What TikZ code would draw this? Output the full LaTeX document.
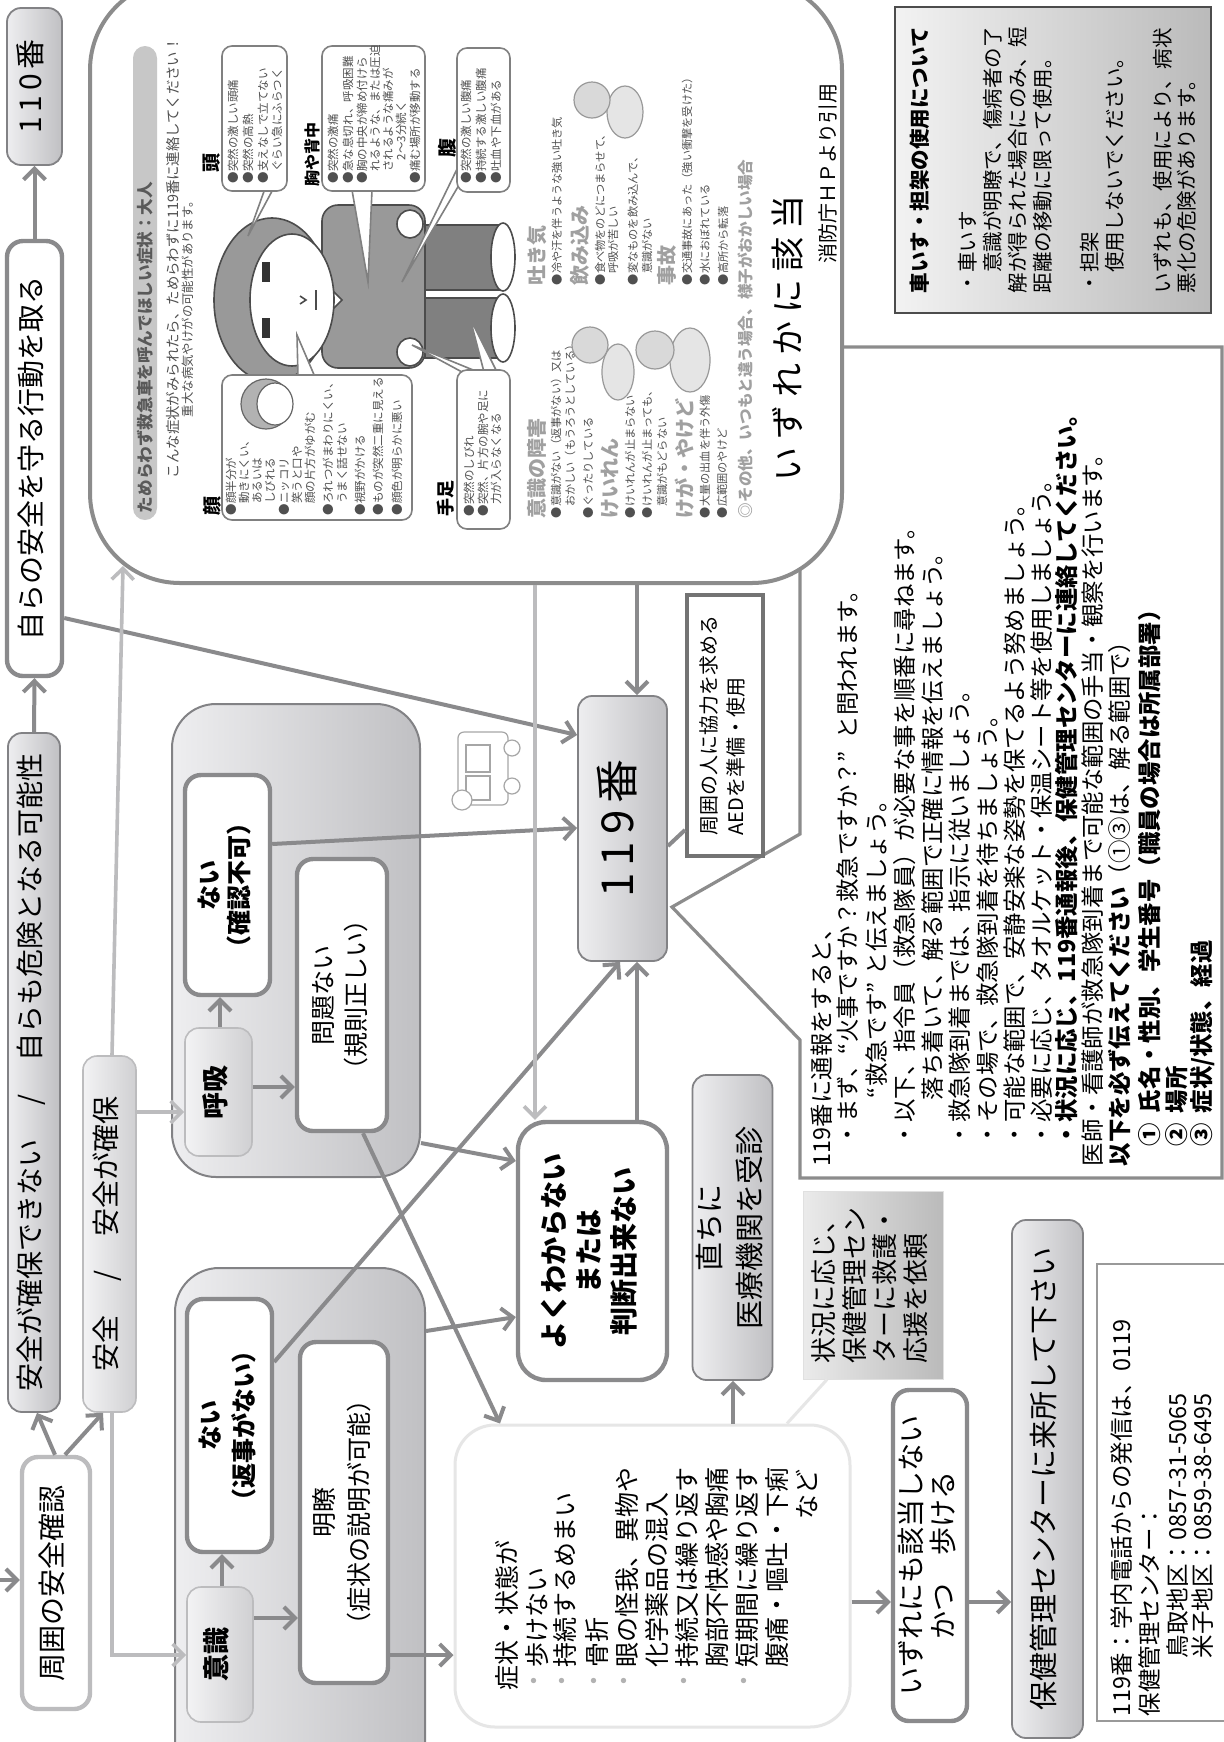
\documentclass[tikz,border=0pt]{standalone}
\usepackage{fontspec}
\usepackage{graphicx}
\setmainfont{Noto Sans CJK JP}
\usetikzlibrary{arrows.meta}
\definecolor{lineD}{RGB}{138,138,140}
\definecolor{lineL}{RGB}{188,188,190}
\definecolor{lineVL}{RGB}{230,230,230}
\definecolor{gL}{RGB}{238,238,240}
\definecolor{gR}{RGB}{192,192,195}
\definecolor{bordG}{RGB}{130,130,133}
\definecolor{ill}{RGB}{80,80,80}
\definecolor{illH}{RGB}{160,160,160}
\newcommand\mybox[7]{%
  \pgfmathsetmacro\bxw{(#5-#3)*0.5}%
  \pgfmathsetmacro\bxh{(#6-#4)*0.5}%
  \node[#2,minimum width=\bxw pt,minimum height=\bxh pt] (#1) at ({(#3+#5)/2},{(#4+#6)/2}) {#7};}
\newcommand\rtxt[3]{\rotatebox{90}{\fontsize{#1}{#2}\selectfont\begin{tabular}{@{}c@{}}#3\end{tabular}}}
\newcommand\rtxtl[3]{\rotatebox{90}{\fontsize{#1}{#2}\selectfont\begin{tabular}{@{}l@{}}#3\end{tabular}}}
\newcommand\tline[5]{\node[tl] (#1) at (#2,#3) {\fontsize{#4}{#4}\selectfont #5};}
\begin{document}
\begin{tikzpicture}[x=0.5pt,y=-0.5pt,
  tl/.style={rotate=90,anchor=west,inner sep=0pt,outer sep=0pt},
  tle/.style={rotate=90,anchor=east,inner sep=0pt,outer sep=0pt},
  conn/.style={draw=lineD,line width=2pt,-{Straight Barb[length=5.5pt,width=11pt]}},
  connN/.style={draw=lineD,line width=2pt},
  connL/.style={draw=lineL,line width=1.8pt,-{Straight Barb[length=5.5pt,width=11pt]}},
  gbox/.style={draw=bordG,line width=0.9pt,left color=gL,right color=gR,rounded corners=7pt,inner sep=0pt},
  wbox/.style={draw=lineD,line width=2.2pt,fill=white,rounded corners=8pt,inner sep=0pt},
  wboxL/.style={draw=lineL,line width=2.2pt,fill=white,rounded corners=8pt,inner sep=0pt},
  lbox/.style={draw=lineL,line width=0.8pt,left color=gL!70!white,right color=gR!75!white,rounded corners=7pt,inner sep=0pt},
  cont/.style={draw=bordG,line width=1pt,left color=gL,right color=gR,rounded corners=22pt,inner sep=0pt},
  abox/.style={draw=black!55,line width=2pt,fill=white,inner sep=0pt},
  sbox/.style={draw=lineVL,line width=1.5pt,fill=white,rounded corners=20pt,inner sep=0pt},
  jbox/.style={draw=black!12,line width=0.5pt,left color=black!8,right color=black!27,inner sep=0pt},
  ibox/.style={draw=black!40,line width=0.6pt,fill=white,inner sep=0pt},
  kbox/.style={draw=black!70,line width=1.2pt,left color=black!5,right color=black!27,inner sep=0pt},
  fbox/.style={draw=black!45,line width=2pt,fill=white,rounded corners=45pt,inner sep=0pt},
  bub/.style={draw=black!50,line width=0.8pt,fill=white,rounded corners=5pt},
  figl/.style={draw=black!70,line width=0.8pt},
]
\fill[white] (0,0) rectangle (1224,1742);
\useasboundingbox (0,0) rectangle (1224,1742);

% ---- callout box behind the illustration frame
\draw[draw=black!45,line width=1.6pt,fill=white] (840,347) -- (1222,347) -- (1222,1178) -- (800,1178) -- (800,1040) -- (672,907) -- (800,834) -- (800,500) -- (840,500) -- cycle;

% ---- illustration frame
\mybox{frame}{fbox}{90}{-20}{842}{583}{}

% title bar
\fill[black!22,rounded corners=6pt] (133,46) rectangle (157,520);
\tline{ti}{145}{513}{8.3}{\bfseries\color{black!65}ためらわず救急車を呼んでほしい症状：大人}
\tline{st1}{173}{478}{7.2}{\color{ill}こんな症状がみられたら、ためらわずに119番に連絡してください！}
\tline{st2}{188}{417}{6.2}{\color{ill}重大な病気やけがの可能性があります。}

% main figure
\draw[figl,fill=black!40,rounded corners=8pt] (322,205) rectangle (425,368);
\draw[figl,fill=white] (322,280) -- (342,300) -- (322,320) -- cycle;
\draw[figl,fill=white] (410,224) ellipse [x radius=6.5pt, y radius=7pt];
\draw[figl,fill=white] (410,352) ellipse [x radius=6.5pt, y radius=7pt];
\draw[figl,fill=black!50] (425,225) rectangle (500,290);
\draw[figl,fill=black!50] (425,298) rectangle (500,358);
\draw[figl,fill=white] (503,257) ellipse [x radius=6pt, y radius=17pt];
\draw[figl,fill=white] (503,328) ellipse [x radius=6pt, y radius=17pt];
\draw[figl,fill=black!40] (272,300) ellipse [x radius=29pt, y radius=41pt];
\draw[figl,fill=white] (292,300) ellipse [x radius=21pt, y radius=33pt];
\fill[black!80] (262,262) rectangle (270,282);
\fill[black!80] (262,318) rectangle (270,338);
\draw[figl] (300,296) -- (306,300) -- (300,304);
\draw[figl] (316,290) -- (316,310);

% bubble tails
\draw[bub,rounded corners=0pt] (286,130) -- (248,236) -- (286,165);
\draw[bub,rounded corners=0pt] (298,377) -- (297,335) -- (315,377);
\draw[bub,rounded corners=0pt] (352,190) -- (368,282) -- (372,190);
\draw[bub,rounded corners=0pt] (459,165) -- (402,282) -- (459,185);
\draw[bub,rounded corners=0pt] (462,372) -- (412,345) -- (478,372);
\draw[bub,rounded corners=0pt] (484,372) -- (470,318) -- (497,372);
% bubbles
\draw[bub] (222,46) rectangle (287,191);
\draw[bub] (222,375) rectangle (412,520);
\draw[bub] (322,46) rectangle (425,191);
\draw[bub] (457,48) rectangle (510,192);
\draw[bub] (457,370) rectangle (510,529);
\draw[black!60,line width=0.6pt,fill=black!30] (266,404) circle [radius=12.5pt];
\draw[black!60,line width=0.6pt,fill=white] (275,404) ellipse [x radius=9pt, y radius=10.5pt];

% headings
\tline{h1}{212}{172}{9.5}{\bfseries 頭}
\tline{h2}{212}{515}{9.5}{\bfseries 顔}
\tline{h3}{312}{186}{8}{\bfseries 胸や背中}
\tline{h4}{447}{157}{9.5}{\bfseries 腹}
\tline{h5}{446}{516}{9}{\bfseries 手足}
% 頭
\tline{a1}{233}{183}{5.75}{\color{ill}●突然の激しい頭痛}
\tline{a2}{248}{183}{5.75}{\color{ill}●突然の高熱}
\tline{a3}{263}{183}{5.75}{\color{ill}●支えなしで立てない}
\tline{a4}{277}{183}{5.75}{\color{ill}　ぐらい急にふらつく}
% 顔
\tline{f1}{231}{515}{5.75}{\color{ill}●顔半分が}
\tline{f2}{244}{515}{5.75}{\color{ill}　動きにくい、}
\tline{f3}{257}{515}{5.75}{\color{ill}　あるいは}
\tline{f4}{270}{515}{5.75}{\color{ill}　しびれる}
\tline{f5}{284}{515}{5.75}{\color{ill}●ニッコリ}
\tline{f6}{297}{515}{5.75}{\color{ill}　笑うと口や}
\tline{f7}{310}{515}{5.75}{\color{ill}　顔の片方がゆがむ}
\tline{f8}{328}{515}{5.75}{\color{ill}●ろれつがまわりにくい、}
\tline{f9}{342}{515}{5.75}{\color{ill}　うまく話せない}
\tline{f10}{360}{515}{5.75}{\color{ill}●視野がかける}
\tline{f11}{378}{515}{5.75}{\color{ill}●ものが突然二重に見える}
\tline{f12}{397}{515}{5.75}{\color{ill}●顔色が明らかに悪い}
% 胸や背中
\tline{m1}{333}{183}{5.75}{\color{ill}●突然の激痛}
\tline{m2}{348}{183}{5.75}{\color{ill}●急な息切れ、呼吸困難}
\tline{m3}{362}{183}{5.75}{\color{ill}●胸の中央が締め付けら}
\tline{m4}{375}{183}{5.75}{\color{ill}　れるような、または圧迫}
\tline{m5}{388}{183}{5.75}{\color{ill}　されるような痛みが}
\tline{m6}{401}{183}{5.75}{\color{ill}　　2〜3分続く}
\tline{m7}{415}{183}{5.75}{\color{ill}●痛む場所が移動する}
% 腹
\tline{b1}{466}{183}{5.75}{\color{ill}●突然の激しい腹痛}
\tline{b2}{481}{183}{5.75}{\color{ill}●持続する激しい腹痛}
\tline{b3}{496}{183}{5.75}{\color{ill}●吐血や下血がある}
% 手足
\tline{t1}{469}{516}{5.75}{\color{ill}●突然のしびれ}
\tline{t2}{483}{516}{5.75}{\color{ill}●突然、片方の腕や足に}
\tline{t3}{496}{516}{5.75}{\color{ill}　力が入らなくなる}

% second column
\tline{q1}{537}{518}{10}{\bfseries\color{illH}意識の障害}
\tline{q2}{556}{518}{5.6}{\color{ill}●意識がない（返事がない）又は}
\tline{q3}{570}{518}{5.6}{\color{ill}　おかしい（もうろうとしている）}
\tline{q4}{588}{518}{5.6}{\color{ill}●ぐったりしている}
\tline{q5}{610}{518}{10}{\bfseries\color{illH}けいれん}
\tline{q6}{630}{518}{5.6}{\color{ill}●けいれんが止まらない}
\tline{q7}{647}{518}{5.6}{\color{ill}●けいれんが止まっても、}
\tline{q8}{662}{518}{5.6}{\color{ill}　意識がもどらない}
\tline{q9}{685}{518}{10}{\bfseries\color{illH}けが・やけど}
\tline{q10}{705}{518}{5.6}{\color{ill}●大量の出血を伴う外傷}
\tline{q11}{722}{518}{5.6}{\color{ill}●広範囲のやけど}
\tline{q12}{745}{518}{7.8}{\bfseries\color{illH}◎その他、いつもと違う場合、様子がおかしい場合}
\tline{r1}{537}{285}{10}{\bfseries\color{illH}吐き気}
\tline{r2}{557}{285}{5.6}{\color{ill}●冷や汗を伴うような強い吐き気}
\tline{r3}{580}{285}{10}{\bfseries\color{illH}飲み込み}
\tline{r4}{600}{285}{5.6}{\color{ill}●食べ物をのどにつまらせて、}
\tline{r5}{613}{285}{5.6}{\color{ill}　呼吸が苦しい}
\tline{r6}{633}{285}{5.6}{\color{ill}●変なものを飲み込んで、}
\tline{r7}{647}{285}{5.6}{\color{ill}　意識がない}
\tline{r8}{667}{285}{10}{\bfseries\color{illH}事故}
\tline{r9}{687}{285}{5.6}{\color{ill}●交通事故にあった（強い衝撃を受けた）}
\tline{r10}{705}{285}{5.6}{\color{ill}●水におぼれている}
\tline{r11}{723}{285}{5.6}{\color{ill}●高所から転落}
% small figures
\draw[black!40,line width=0.6pt,fill=black!10] (618,372) ellipse [x radius=8pt, y radius=14pt];
\draw[black!40,line width=0.6pt,fill=black!15] (590,345) circle [radius=9pt];
\draw[black!40,line width=0.6pt,fill=black!10] (690,360) ellipse [x radius=10pt, y radius=16pt];
\draw[black!40,line width=0.6pt,fill=black!15] (655,350) circle [radius=9.5pt];
\draw[black!40,line width=0.6pt,fill=black!10] (625,112) ellipse [x radius=9pt, y radius=13pt];
\draw[black!40,line width=0.6pt,fill=black!15] (592,100) circle [radius=9pt];

\tline{izg}{788}{481}{17}{い\hspace{4pt}ず\hspace{4pt}れ\hspace{4pt}か\hspace{4pt}に\hspace{4pt}該\hspace{4pt}当}
\tline{shobo}{828}{263}{10}{消防庁ＨＰより引用}

% ---- wheelchair box
\mybox{kuruma}{kbox}{895}{7}{1211}{313}{}
\tline{k1}{920}{293}{10.25}{\bfseries 車いす・担架の使用について}
\tline{k2}{968}{293}{10.25}{・車いす}
\tline{k3}{993}{293}{10.25}{　意識が明瞭で、傷病者の了}
\tline{k4}{1018}{293}{10.25}{解が得られた場合にのみ、短}
\tline{k5}{1043}{293}{10.25}{距離の移動に限って使用。}
\tline{k6}{1090}{293}{10.25}{・担架}
\tline{k7}{1115}{293}{10.25}{　使用しないでください。}
\tline{k8}{1163}{293}{10.25}{いずれも、使用により、病状}
\tline{k9}{1187}{293}{10.25}{悪化の危険があります。}

% ---- callout text
\tline{c1}{822}{1166}{11.7}{119番に通報をすると、}
\tline{c2}{848}{1146}{11.7}{・まず、“火事ですか？救急ですか？”\hspace{0.5em}と問われます。}
\tline{c3}{877}{1098}{11.7}{“救急です”\hspace{0.3em}と伝えましょう。}
\tline{c4}{905}{1146}{11.7}{・以下、指令員（救急隊員）が必要な事を順番に尋ねます。}
\tline{c5}{933}{1100}{11.7}{落ち着いて、解る範囲で正確に情報を伝えましょう。}
\tline{c6}{960}{1146}{11.7}{・救急隊到着までは、指示に従いましょう。}
\tline{c7}{988}{1146}{11.7}{・その場で、救急隊到着を待ちましょう。}
\tline{c8}{1015}{1146}{11.7}{・可能な範囲で、安静安楽な姿勢を保てるよう努めましょう。}
\tline{c9}{1042}{1146}{11.7}{・必要に応じ、タオルケット・保温シート等を使用しましょう。}
\tline{c10}{1067}{1146}{11.7}{\bfseries ・状況に応じ、119番通報後、保健管理センターに連絡してください。}
\tline{c11}{1093}{1166}{11.7}{医師・看護師が救急隊到着まで可能な範囲の手当・観察を行います。}
\tline{c12}{1120}{1166}{11.7}{{\bfseries 以下を必ず伝えてください}（①③は、解る範囲で）}
\tline{c13}{1150}{1146}{11.7}{\bfseries ①\hspace{0.4em}氏名・性別、学生番号（職員の場合は所属部署）}
\tline{c14}{1177}{1146}{11.7}{\bfseries ②\hspace{0.4em}場所}
\tline{c15}{1203}{1146}{11.7}{\bfseries ③\hspace{0.4em}症状/状態、経過}

% ---- left column
\mybox{n110}{gbox}{7}{8}{62}{165}{\rtxt{15}{18}{1\hspace{2.5pt}1\hspace{2.5pt}0\hspace{2.5pt}番}}
\mybox{jira}{wbox}{7}{241}{62}{676}{\rtxt{14}{17}{自らの安全を守る行動を取る}}
\mybox{nodanger}{gbox}{8}{733}{60}{1412}{\rtxt{14}{17}{安全が確保できない\hspace{1.2em}/\hspace{1.2em}自らも危険となる可能性}}
\mybox{anzen}{lbox}{83}{1056}{136}{1412}{\rtxt{14}{17}{安全\hspace{1.2em}/\hspace{1.2em}安全が確保}}
\mybox{shui}{wboxL}{22}{1457}{90}{1709}{\rtxt{14}{17}{周囲の安全確認}}

% ---- containers
\mybox{bc}{cont}{172}{704}{420}{1177}{}
\mybox{cc}{cont}{175}{1268}{425}{1800}{}
\mybox{kokyu}{lbox}{185}{1028}{252}{1156}{\rtxt{13.5}{16}{\bfseries 呼吸}}
\mybox{nai1}{wbox}{185}{775}{270}{995}{\rtxt{12.5}{15}{\bfseries ない\\\bfseries （確認不可）}}
\mybox{mondai}{wbox}{297}{859}{387}{1131}{\rtxt{12.5}{16.5}{問題ない\\（規則正しい）}}
\mybox{ishiki}{lbox}{187}{1587}{253}{1722}{\rtxt{13.5}{16}{\bfseries 意識}}
\mybox{nai2}{wbox}{187}{1299}{272}{1552}{\rtxt{12.5}{17.5}{\bfseries ない\\\bfseries （返事がない）}}
\mybox{meiryo}{wbox}{300}{1342}{388}{1683}{\rtxt{12.5}{17.5}{明瞭\\（症状の説明が可能）}}

% ---- middle
\mybox{yoku}{wbox,rounded corners=14pt}{518}{1122}{667}{1380}{\rtxt{14}{17.5}{\bfseries よくわからない\\\bfseries または\\\bfseries 判断出来ない}}
\mybox{n119}{gbox}{578}{696}{667}{961}{\rtxt{22}{24}{1\hspace{3.5pt}1\hspace{3.5pt}9\hspace{3.5pt}番}}
\mybox{aed}{abox}{687}{595}{763}{856}{\rtxtl{10}{13.5}{周囲の人に協力を求める\\AEDを準備・使用}}
\mybox{chokuni}{gbox}{693}{1075}{772}{1380}{\rtxt{14.5}{20}{直ちに\\医療機関を受診}}
\mybox{shojo}{sbox}{455}{1425}{850}{1727}{}
\tline{s1}{507}{1690}{12.5}{症状・状態が}
\tline{sb2}{537}{1693}{12.5}{\color{black!30}・}
\tline{sb3}{565}{1693}{12.5}{\color{black!30}・}
\tline{sb4}{597}{1693}{12.5}{\color{black!30}・}
\tline{sb5}{627}{1693}{12.5}{\color{black!30}・}
\tline{sb7}{687}{1693}{12.5}{\color{black!30}・}
\tline{sb9}{747}{1693}{12.5}{\color{black!30}・}
\tline{s2}{537}{1667}{12.5}{歩けない}
\tline{s3}{565}{1667}{12.5}{持続するめまい}
\tline{s4}{597}{1667}{12.5}{骨折}
\tline{s5}{627}{1667}{12.5}{眼の怪我、異物や}
\tline{s6}{657}{1667}{12.5}{化学薬品の混入}
\tline{s7}{687}{1667}{12.5}{持続又は繰り返す}
\tline{s8}{717}{1667}{12.5}{胸部不快感や胸痛}
\tline{s9}{747}{1667}{12.5}{短期間に繰り返す}
\tline{s10}{777}{1667}{12.5}{腹痛・嘔吐・下痢}
\node[tle] (s11) at (807,1469) {\fontsize{12.5}{12.5}\selectfont など};
\mybox{jokyo}{jbox}{803}{1191}{943}{1379}{\rtxtl{13}{15}{状況に応じ、\\保健管理セン\\ターに救護・\\応援を依頼}}
\mybox{izure}{wbox}{893}{1390}{967}{1721}{\rtxt{14}{15}{いずれにも該当しない\\かつ\hspace{1em}歩ける}}
\mybox{hoken}{gbox}{1012}{1220}{1083}{1738}{\rtxt{14.5}{17}{保健管理センターに来所して下さい}}
\mybox{info}{ibox}{1097}{1264}{1230}{1721}{}
\tline{i1}{1122}{1716}{11.75}{119番：学内電話からの発信は、0119}
\tline{i2}{1150}{1716}{11.75}{保健管理センター：}
\tline{i3}{1178}{1658}{11.75}{鳥取地区：0857-31-5065}
\tline{i4}{1203}{1658}{11.75}{米子地区：0859-38-6495}

% ambulance sketch
\begin{scope}[draw=black!35,line width=0.6pt]
\draw[fill=white,rounded corners=3pt] (458,732) rectangle (508,805);
\draw (466,745) rectangle (490,772);
\draw (466,776) rectangle (490,800);
\draw[fill=white] (512,748) circle [radius=4pt];
\draw[fill=white] (512,786) circle [radius=4pt];
\draw[fill=white] (462,800) circle [radius=5pt];
\end{scope}

% ---- connectors
\coordinate (ext) at (-5,1580);
\coordinate (frameA) at (123,566);
\draw[conn] (ext) -- (shui.west |- ext);
\draw[conn] (shui.north -| 55,0) -- (nodanger.south -| 37,0);
\draw[conn] (shui.north -| 65,0) -- (anzen.south -| 103,0);
\draw[conn] (nodanger.north) -- (jira.south);
\draw[conn] (jira.north) -- (n110.south);
\draw[conn] (jira.east |- 0,618) -- (n119.west |- 0,735);
\draw[connL] (anzen.north -| 112,0) -- (frameA);
\draw[connL] (anzen.east |- 0,1112) -- (kokyu.west |- 0,1112);
\draw[connL] (anzen.south -| 112,0) |- (ishiki.west |- 0,1655);
\draw[conn] (kokyu.north -| 220,0) -- (nai1.south -| 220,0);
\draw[conn] (kokyu.east |- 0,1087) -- (mondai.west |- 0,1087);
\draw[conn] (nai1.east |- 0,844) -- (n119.west |- 0,828);
\draw[conn] (mondai.south -| 363,0) -- (shojo.north -| 500,0);
\draw[conn] (bc.east |- 0,1143) -- (yoku.west |- 0,1161);
\draw[conn] (ishiki.north -| 222,0) -- (nai2.south -| 222,0);
\draw[conn] (ishiki.east |- 0,1618) -- (meiryo.west |- 0,1618);
\draw[conn] (nai2.east |- 0,1362) -- (n119.south -| 620,0);
\draw[conn] (meiryo.east |- 0,1655) -- (shojo.west |- 0,1655);
\draw[conn] (cc.east |- 0,1331) -- (yoku.west |- 0,1317);
\draw[connL] (frame.south -| 535,0) -- (yoku.north -| 535,0);
\draw[conn] (frame.south -| 637,0) -- (n119.north -| 637,0);
\draw[conn] (yoku.north -| 637,0) -- (n119.south -| 637,0);
\draw[connN] (n119.east |- 0,846) -- (aed.west |- 0,830);
\draw[conn] (shojo.north -| 733,0) -- (chokuni.south -| 733,0);
\draw[draw=lineVL,line width=1.5pt] (shojo.north -| 787,0) -- (jokyo.south -| 827,0);
\draw[conn] (shojo.east |- 0,1602) -- (izure.west |- 0,1602);
\draw[conn] (izure.east |- 0,1602) -- (hoken.west |- 0,1602);
\end{tikzpicture}
\end{document}
